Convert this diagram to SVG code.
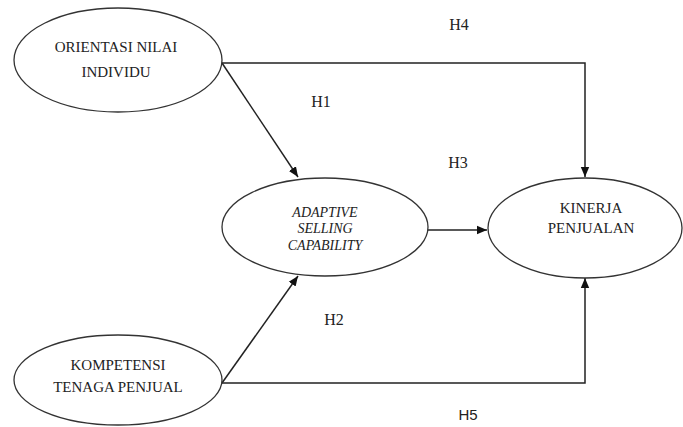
<svg xmlns="http://www.w3.org/2000/svg" width="683" height="427" viewBox="0 0 683 427">
<style>
.node ellipse{fill:#fff;stroke:#333;stroke-width:1.3}
.t{font-family:"Liberation Serif","Times New Roman",serif;font-size:15px;fill:#222;text-anchor:middle}
.i{font-style:italic;font-size:14px}
.h{font-family:"Liberation Serif","Times New Roman",serif;font-size:16px;fill:#222;text-anchor:middle}
.hs{font-family:"Liberation Sans",Arial,sans-serif;font-size:15px;fill:#222;text-anchor:middle}
.c line,.c polyline{stroke:#222;stroke-width:1.5;fill:none}
</style>
<defs>
<marker id="ah" viewBox="0 0 10 10" refX="10" refY="5" markerWidth="10" markerHeight="10" markerUnits="userSpaceOnUse" orient="auto">
<path d="M0,0.8 L10,5 L0,9.2 Z" fill="#111"/>
</marker>
</defs>
<rect width="683" height="427" fill="#fff"/>
<g class="c" id="connectors">
<polyline points="222,63 585,63 585,177" marker-end="url(#ah)"/>
<line x1="222" y1="63" x2="298" y2="177" marker-end="url(#ah)"/>
<line x1="428" y1="230" x2="487" y2="230" marker-end="url(#ah)"/>
<line x1="222" y1="383" x2="298" y2="276" marker-end="url(#ah)"/>
<polyline points="222,383 585,383 585,278" marker-end="url(#ah)"/>
</g>
<g class="node" id="orientasi">
<ellipse cx="118" cy="60" rx="104" ry="52"/>
<text class="t" x="116" y="52">ORIENTASI NILAI</text>
<text class="t" x="116" y="77">INDIVIDU</text>
</g>
<g class="node" id="adaptive">
<ellipse cx="325" cy="227" rx="103" ry="49"/>
<text class="t i" x="325" y="217">ADAPTIVE</text>
<text class="t i" x="325" y="233">SELLING</text>
<text class="t i" x="325" y="250">CAPABILITY</text>
</g>
<g class="node" id="kinerja">
<ellipse cx="585" cy="228" rx="97" ry="50"/>
<text class="t" x="591" y="213">KINERJA</text>
<text class="t" x="591" y="233">PENJUALAN</text>
</g>
<g class="node" id="kompetensi">
<ellipse cx="118" cy="380" rx="104" ry="45"/>
<text class="t" x="118" y="370">KOMPETENSI</text>
<text class="t" x="118" y="392">TENAGA PENJUAL</text>
</g>
<g id="labels">
<text class="h" x="459" y="30">H4</text>
<text class="h" x="321" y="107">H1</text>
<text class="h" x="458" y="168">H3</text>
<text class="h" x="334" y="325">H2</text>
<text class="hs" x="468" y="420">H5</text>
</g>
</svg>
